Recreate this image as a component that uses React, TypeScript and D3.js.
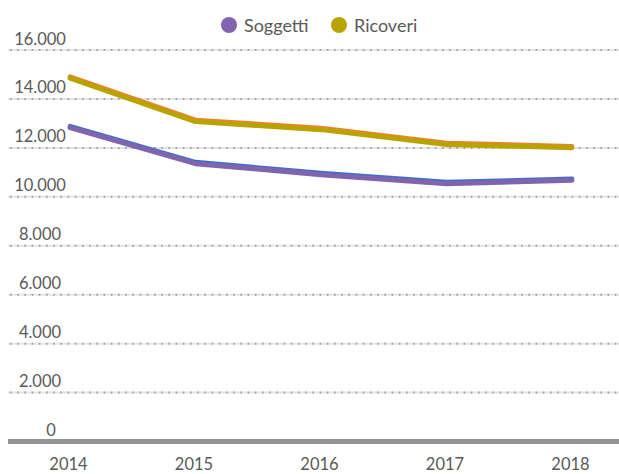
import React from "react";
import * as d3 from "d3";

const years = ["2014", "2015", "2016", "2017", "2018"];
const soggetti = [12850, 11380, 10930, 10560, 10700];
const ricoveri = [14870, 13100, 12770, 12160, 12030];
const yTicks = [0, 2000, 4000, 6000, 8000, 10000, 12000, 14000, 16000];
const seriesNames = ["Soggetti", "Ricoveri"];

const W = 619;
const H = 474;
const FONT = "Lato, 'Open Sans', sans-serif";

export default function App() {
  const x = d3.scalePoint<string>().domain(years).range([70, 572]);
  const y = d3.scaleLinear().domain([0, 16000]).range([441.5, 50]);
  const fmt = (v: number) => (v === 0 ? "0" : d3.format(",")(v).replace(/,/g, "."));

  const line = (offset: number) =>
    d3
      .line<number>()
      .x((_, i) => x(years[i]) as number)
      .y((d) => y(d) + offset);

  const series = [
    { name: seriesNames[0], data: soggetti, color: "#8064b0", shadow: "#3f6fc4" },
    { name: seriesNames[1], data: ricoveri, color: "#b8a300", shadow: "#f0802c" },
  ];

  return (
    <svg
      width={W}
      height={H}
      style={{ position: "absolute", left: 0, top: 0, background: "#fff" }}
      fontFamily={FONT}
    >
      {yTicks
        .filter((t) => t > 0)
        .map((t) => (
          <g key={t}>
            <line x1={8} x2={W} y1={y(t)} y2={y(t)} stroke="#e4e4e4" strokeWidth={2} />
            <line
              x1={10}
              x2={W}
              y1={y(t)}
              y2={y(t)}
              stroke="#a0a0a0"
              strokeWidth={2}
              strokeDasharray="1.6 5.6"
            />
          </g>
        ))}
      <line x1={8} x2={W} y1={y(0)} y2={y(0)} stroke="#939393" strokeWidth={5} />
      {yTicks.map((t) => (
        <text
          key={"l" + t}
          x={t === 0 ? 51 : 40}
          y={y(t) - 5.5}
          textAnchor="middle"
          fontSize={16.5}
          fill="#595959"
        >
          {fmt(t)}
        </text>
      ))}
      {years.map((yr) => (
        <text
          key={yr}
          x={(x(yr) as number) - 1.5}
          y={469.5}
          textAnchor="middle"
          fontSize={16.5}
          fill="#595959"
        >
          {yr}
        </text>
      ))}
      {series.map((s) => (
        <g key={s.name}>
          <path
            d={line(-1)(s.data) || ""}
            fill="none"
            stroke={s.shadow}
            strokeWidth={4.5}
            strokeLinecap="round"
            strokeLinejoin="round"
          />
          <path
            d={line(0.6)(s.data) || ""}
            fill="none"
            stroke={s.color}
            strokeWidth={5}
            strokeLinecap="round"
            strokeLinejoin="round"
          />
        </g>
      ))}
      {series.map((s, i) => {
        const cx = i === 0 ? 229 : 339;
        return (
          <g key={"lg" + s.name}>
            <circle cx={cx} cy={25} r={8} fill={s.color} />
            <text x={cx + 15} y={31.5} fontSize={18} fill="#595959">
              {s.name}
            </text>
          </g>
        );
      })}
    </svg>
  );
}
